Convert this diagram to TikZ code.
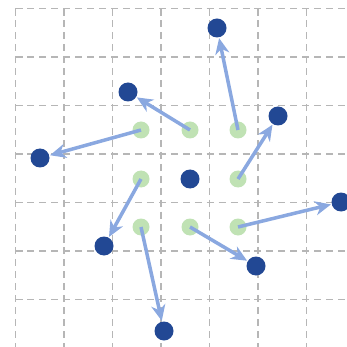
\documentclass[tikz,border=0pt]{standalone}
\usetikzlibrary{arrows.meta, positioning}
\definecolor{dotblue}{RGB}{34,72,148}
\definecolor{dotgreen}{RGB}{192,226,180}
\definecolor{movecol}{RGB}{138,168,224}
\definecolor{gridgray}{RGB}{182,182,182}

\begin{document}
\begin{tikzpicture}[x=0.02cm, y=-0.02cm,
  newpos/.style={circle, fill=dotblue, inner sep=0pt, minimum size=19*0.02cm},
  oldpos/.style={circle, fill=dotgreen, inner sep=0pt, minimum size=17*0.02cm},
  gridline/.style={gridgray, line width=0.85pt, dash pattern=on 4pt off 2.8pt},
  move/.style={-{Stealth[length=9pt, width=8pt, inset=2.8pt]}, movecol, line width=2pt, shorten >=0.3pt}]
  \useasboundingbox (0,0) rectangle (346,347);
  
  % Dashed grid
  \foreach \k in {0,...,6} {
    \draw[gridline] (15.5+48.5*\k,8.5) -- (15.5+48.5*\k,347);
    \draw[gridline] (15.5,8.5+48.5*\k) -- (346,8.5+48.5*\k);
  }
  
  % Old positions
  \node[oldpos] (ga) at (141,130) {};
  \node[oldpos] (gb) at (190,130) {};
  \node[oldpos] (gc) at (238,130) {};
  \node[oldpos] (gd) at (141,179) {};
  \node[oldpos] (ge) at (238,179) {};
  \node[oldpos] (gf) at (141,227) {};
  \node[oldpos] (gg) at (190,227) {};
  \node[oldpos] (gh) at (238,227) {};
  
  % New positions
  \node[newpos] (bc) at (190,179) {};
  \node[newpos] (ba) at (40,158) {};
  \node[newpos] (bb) at (128,92) {};
  \node[newpos] (bcc) at (217,28) {};
  \node[newpos] (bd) at (104,246) {};
  \node[newpos] (be) at (278,116) {};
  \node[newpos] (bf) at (164,331) {};
  \node[newpos] (bg) at (256,266) {};
  \node[newpos] (bh) at (341,202) {};
  
  % Displacements
  \draw[move] (ga.center) -- (ba);
  \draw[move] (gb.center) -- (bb);
  \draw[move] (gc.center) -- (bcc);
  \draw[move] (gd.center) -- (bd);
  \draw[move] (ge.center) -- (be);
  \draw[move] (gf.center) -- (bf);
  \draw[move] (gg.center) -- (bg);
  \draw[move] (gh.center) -- (bh);
\end{tikzpicture}
\end{document}
